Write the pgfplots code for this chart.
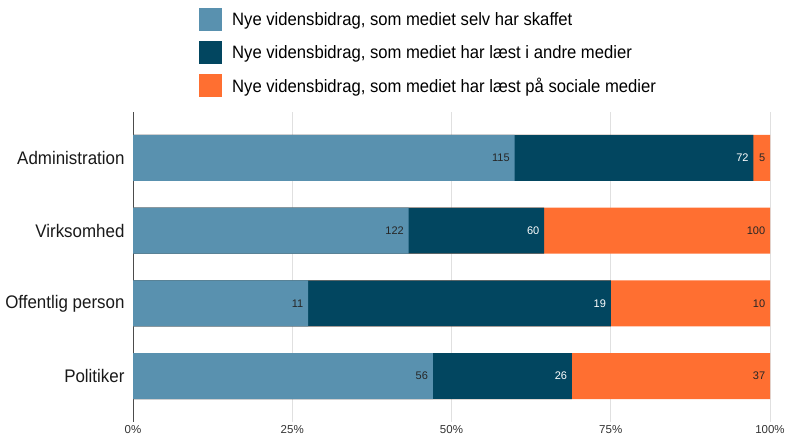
\documentclass[border=0pt]{standalone}
\usepackage{fontspec}
\setmainfont{Liberation Sans}
\newfontfamily\cond{Liberation Sans}[FakeStretch=0.93]
\usepackage{pgfplots}
\usepackage{pgfplotstable}
\pgfplotsset{compat=1.18}
\definecolor{cLight}{RGB}{89,145,175}
\definecolor{cDark}{RGB}{2,70,96}
\definecolor{cOrange}{RGB}{255,111,49}

% counts per category: a = selv skaffet, b = andre medier, c = sociale medier
\pgfplotstableread{
idx a b c
0 115 72 5
1 122 60 100
2 11 19 10
3 56 26 37
}\data

\begin{document}
\begin{tikzpicture}
\path[use as bounding box] (0pt,0pt) rectangle (786pt,-441pt);
\begin{axis}[
    at={(133pt,-422pt)}, anchor=south west,
    scale only axis, width=637pt, height=310pt,
    xbar, bar width=46pt, bar shift=0pt,
    xmin=0, xmax=100, ymin=-0.63, ymax=3.63, y dir=reverse,
    axis lines=left, axis line style={-},
    x axis line style={draw=none},
    y axis line style={draw=black!70, line width=0.8pt},
    xtick={0,25,50,75,100},
    xticklabels={0\%,25\%,50\%,75\%,100\%},
    ytick={0,1,2,3},
    yticklabels={Administration,Virksomhed,Offentlig person,Politiker},
    major tick length=0pt,
    xmajorgrids, grid style={black!12, line width=0.8pt},
    xticklabel style={font=\fontsize{11.5}{13}\selectfont, text=black!80},
    yticklabel style={font=\cond\fontsize{18.2}{20}\selectfont, text=black!90, xshift=-5pt},
    /pgf/number format/assume math mode=true,
    point meta=explicit,
    nodes near coords={\pgfmathprintnumber{\pgfplotspointmeta}},
    every node near coord/.append style={anchor=east, xshift=-1.3pt, font=\fontsize{11}{12}\selectfont, text=black!85},
    every axis plot/.append style={draw=none,
        legend image code/.code={\fill[##1] (0pt,-10.9pt) rectangle (23pt,12.1pt);}},
    legend style={at={(axis description cs:0.1036,1.336)}, anchor=north west,
        draw=none, fill=none, inner sep=0pt, row sep=10pt, column sep=8pt,
        nodes={inner sep=2pt},
        font=\cond\fontsize{17.9}{20}\selectfont},
    legend cell align=left,
    reverse legend,
]
% bars drawn as cumulative shares, back to front
\addplot[fill=cOrange] table[x expr=100*(\thisrow{a}+\thisrow{b}+\thisrow{c})/(\thisrow{a}+\thisrow{b}+\thisrow{c}), y=idx, meta=c]{\data};
\addplot[fill=cDark, nodes near coords style={text=white}] table[x expr=100*(\thisrow{a}+\thisrow{b})/(\thisrow{a}+\thisrow{b}+\thisrow{c}), y=idx, meta=b]{\data};
\addplot[fill=cLight] table[x expr=100*\thisrow{a}/(\thisrow{a}+\thisrow{b}+\thisrow{c}), y=idx, meta=a]{\data};
\legend{Nye vidensbidrag{,} som mediet har læst på sociale medier,
        Nye vidensbidrag{,} som mediet har læst i andre medier,
        Nye vidensbidrag{,} som mediet selv har skaffet}
\end{axis}
\end{tikzpicture}
\end{document}
